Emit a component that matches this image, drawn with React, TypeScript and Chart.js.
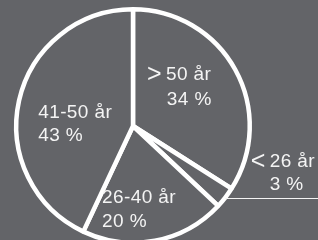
import React, { useEffect, useRef } from "react";
import { Chart, registerables } from "chart.js";

Chart.register(...registerables);

const categories = ["> 50 år", "< 26 år", "26-40 år", "41-50 år"];
const values = [34, 3, 20, 43];
const percentLabels = ["34 %", "3 %", "20 %", "43 %"];

const BG = "#636468";
const FG = "#f4f4f4";

// label line anchors, relative to pie centre, in units of the outer radius
const labelLayout = [
  [{ dx: 0.128, dy: -0.436 }, { dx: 0.29, dy: -0.222 }],
  [{ dx: 1.017, dy: 0.308 }, { dx: 1.171, dy: 0.504 }],
  [{ dx: -0.265, dy: 0.615 }, { dx: -0.265, dy: 0.82 }],
  [{ dx: -0.812, dy: -0.111 }, { dx: -0.812, dy: 0.085 }],
];
const leaderIndex = 1;

const FONT = "19px 'Liberation Sans', Arial, sans-serif";
const SYMBOL_FONT = "25px 'Liberation Sans', Arial, sans-serif";

const labelPlugin = {
  id: "pieLabels",
  afterDatasetsDraw(chart: any) {
    const meta = chart.getDatasetMeta(0);
    const ctx = chart.ctx;
    ctx.save();
    ctx.fillStyle = FG;
    try { (ctx as any).letterSpacing = "0.4px"; } catch (e) {}
    ctx.textAlign = "left";
    ctx.textBaseline = "middle";
    meta.data.forEach((arc: any, i: number) => {
      const { x, y, outerRadius } = arc.getProps(["x", "y", "outerRadius"], true);
      const lines = [categories[i], percentLabels[i]];
      lines.forEach((t, j) => {
        const p = labelLayout[i][j];
        let tx = x + p.dx * outerRadius;
        const ty = y + p.dy * outerRadius;
        let rest = t;
        if (t[0] === ">" || t[0] === "<") {
          ctx.font = SYMBOL_FONT;
          ctx.fillText(t[0], tx - 1, ty);
          tx += ctx.measureText(t[0]).width + 3;
          rest = t.slice(1).trimStart();
        }
        ctx.font = FONT;
        ctx.fillText(rest, tx, ty);
      });
    });
    const arc: any = meta.data[leaderIndex];
    if (arc) {
      const { x, y, outerRadius, startAngle, endAngle } = arc.getProps(
        ["x", "y", "outerRadius", "startAngle", "endAngle"], true);
      const mid = (startAngle + endAngle) / 2;
      const px = x + Math.cos(mid) * outerRadius;
      const py = Math.round(y + Math.sin(mid) * outerRadius) + 0.5;
      ctx.strokeStyle = FG;
      ctx.lineWidth = 1;
      ctx.beginPath();
      ctx.moveTo(px, py);
      ctx.lineTo(chart.width, py);
      ctx.stroke();
    }
    ctx.restore();
  },
};

export default function App() {
  const ref = useRef<HTMLCanvasElement>(null);
  useEffect(() => {
    const chart = new Chart(ref.current!, {
      type: "pie",
      data: {
        labels: categories,
        datasets: [
          {
            data: values,
            backgroundColor: BG,
            borderColor: "#ffffff",
            borderWidth: 4.5,
            hoverBorderWidth: 4.5,
            hoverBackgroundColor: BG,
          },
        ],
      },
      options: {
        responsive: false,
        animation: false,
        devicePixelRatio: 1,
        layout: { padding: { left: 14, top: 7, right: 66, bottom: 7 } },
        plugins: { legend: { display: false }, tooltip: { enabled: false } },
        events: [],
      },
      plugins: [labelPlugin],
    });
    return () => chart.destroy();
  }, []);
  return (
    <div
      style={{
        position: "fixed",
        left: 0,
        top: 0,
        width: 318,
        height: 240,
        overflow: "hidden",
        background: BG,
      }}
    >
      <canvas ref={ref} width={318} height={252} style={{ display: "block" }} />
    </div>
  );
}
